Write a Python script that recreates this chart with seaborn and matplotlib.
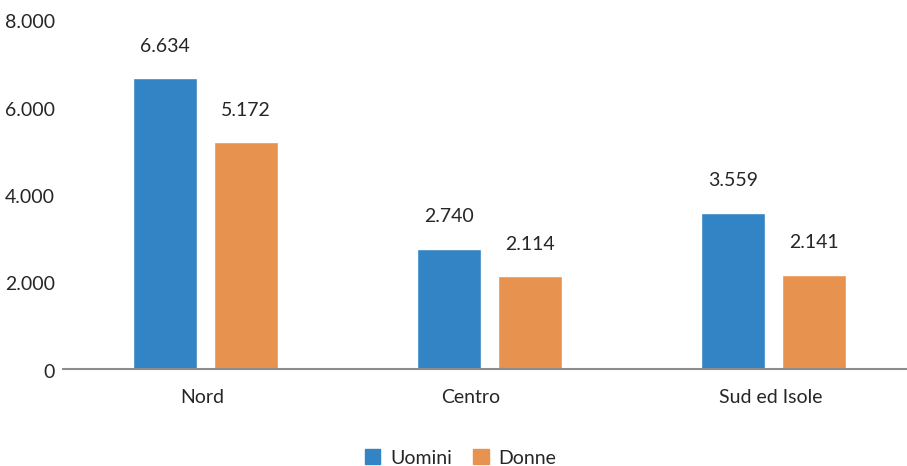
import matplotlib
matplotlib.use("Agg")
import matplotlib.pyplot as plt
from matplotlib.transforms import ScaledTranslation
import seaborn as sns
import pandas as pd

# Occupati per ripartizione geografica e sesso
regioni = ["Nord", "Centro", "Sud ed Isole"]
uomini = [6634, 2740, 3559]
donne = [5172, 2114, 2141]
serie = ["Uomini", "Donne"]
y_ticks = [0, 2000, 4000, 6000, 8000]

df = pd.DataFrame({
    "Regione": regioni * 2,
    "Sesso": [serie[0]] * len(regioni) + [serie[1]] * len(regioni),
    "Valore": uomini + donne,
})

sns.set_theme(style="white")
plt.rcParams["font.family"] = ["Lato", "DejaVu Sans"]

def fmt(v):
    return f"{v:,.0f}".replace(",", ".")

W, H = 907, 466
fig = plt.figure(figsize=(W / 100, H / 100), dpi=100)
left, right, top, base = 63, 907, 18.5, 368.5
ax = fig.add_axes([left / W, 1 - base / H, (right - left) / W, (base - top) / H])

palette = {"Uomini": "#3284C5", "Donne": "#E8924F"}
sns.barplot(data=df, x="Regione", y="Valore", hue="Sesso", palette=palette,
            width=0.574, gap=0.216, saturation=1, ax=ax, legend=True)

ax.set_ylim(0, 8000)
unit = 284.0  # pixels per category
x0 = -142.5 / unit
ax.set_xlim(x0, x0 + (right - left) / unit)
ax.set_yticks(y_ticks)
ax.set_yticklabels([fmt(t) for t in y_ticks])
ax.set_xlabel("")
ax.set_ylabel("")

for s in ["top", "right", "left"]:
    ax.spines[s].set_visible(False)
ax.spines["bottom"].set_color("#8C8C8C")
ax.spines["bottom"].set_linewidth(1.5)
ax.tick_params(axis="both", length=0, labelsize=14, colors="#262626")
ax.tick_params(axis="y", pad=6)
ax.tick_params(axis="x", pad=15)

# small nudges of the tick labels
x_shift = [-3, -19, -3]
for lab, dx in zip(ax.get_xticklabels(), x_shift):
    lab.set_transform(lab.get_transform() + ScaledTranslation(dx / 100, 0, fig.dpi_scale_trans))
for lab in ax.get_yticklabels():
    lab.set_transform(lab.get_transform() + ScaledTranslation(0, -2.5 / 100, fig.dpi_scale_trans))

for cont in ax.containers:
    for bar in cont:
        h = bar.get_height()
        ax.annotate(fmt(h), (bar.get_x() + bar.get_width() / 2, h),
                    xytext=(0, 19), textcoords="offset points",
                    ha="center", va="baseline", fontsize=14, color="#262626")

ax.legend_.remove()
handles = [plt.Rectangle((0, 0), 1, 1, color=palette[k]) for k in serie]
fig.legend(handles, serie, loc="center", bbox_to_anchor=(460.5 / W, 1 - 458 / H),
           ncol=2, frameon=False, fontsize=14, handlelength=0.8, handleheight=0.8,
           handletextpad=0.5, columnspacing=1.1, labelcolor="#262626")

fig.savefig("out.png", dpi=100)
